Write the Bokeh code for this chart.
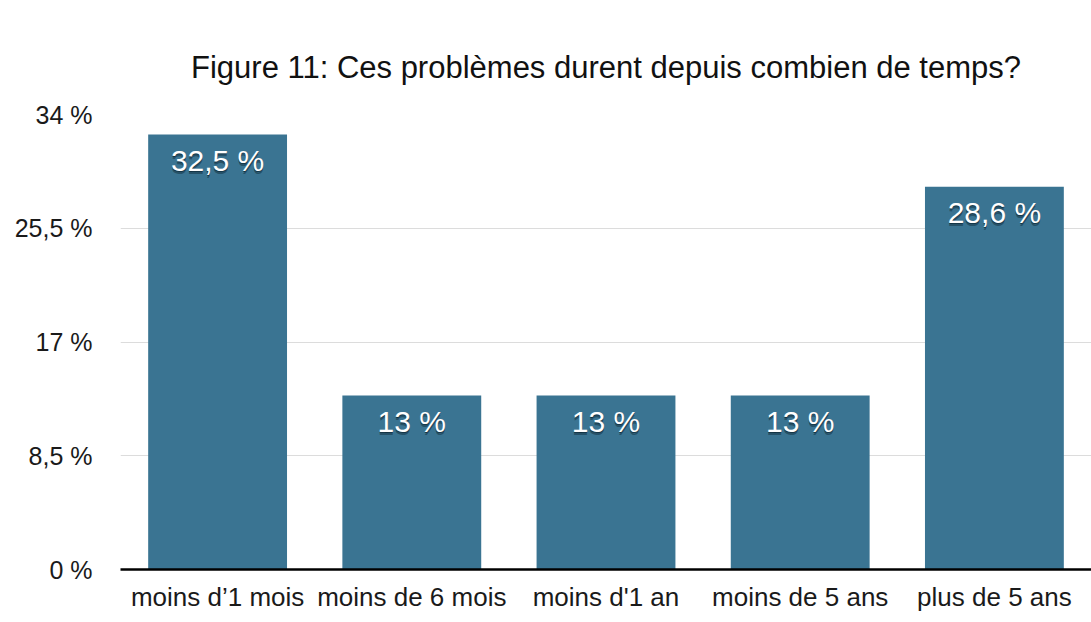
from bokeh.plotting import figure
from bokeh.models import ColumnDataSource, LabelSet, FixedTicker, Title
from bokeh.core.properties import value
from bokeh.embed import file_html
from bokeh.resources import INLINE

# ---- data ----
categories = ["moins d\u20191 mois", "moins de 6 mois", "moins d'1 an", "moins de 5 ans", "plus de 5 ans"]
values = [32.5, 13.0, 13.0, 13.0, 28.6]
y_ticks = [0, 8.5, 17, 25.5, 34]
title_text = "Figure 11: Ces probl\u00e8mes durent depuis combien de temps?"


def fr(v):
    return f"{v:g}".replace(".", ",") + " %"


labels = [fr(v) for v in values]
tick_labels = {t: fr(t) for t in y_ticks}

src = ColumnDataSource(dict(cat=categories, val=values, lab=labels))

FONT = "Liberation Sans"
BAR = "#3a7492"

p = figure(x_range=categories, y_range=(0, 34), width=1091, height=614,
           output_backend="svg", toolbar_location=None,
           min_border_left=120, min_border_right=0, min_border_top=114, min_border_bottom=43)
p.title = None
t = Title(text=title_text, align="center", text_font=FONT, text_font_size="31px",
          text_font_style="normal", text_color="#111111", standoff=59)
p.add_layout(t, "above")

p.outline_line_color = None
p.background_fill_color = "white"
p.border_fill_color = "white"

p.vbar(x="cat", top="val", width=0.715, source=src, fill_color=BAR, line_color=None)

# labels: shadow then white text
common = dict(x="cat", y="val", text="lab", source=src, text_align="center",
              text_baseline="top", text_font=value(FONT), text_font_size="30px")
shadow2 = LabelSet(y_offset=-12, text_color="#0c2633", text_alpha=0.45, **common)
shadow = LabelSet(y_offset=-10, text_color="#0c2633", text_alpha=0.75, **common)
lab = LabelSet(y_offset=-9, text_color="white", **common)
p.add_layout(shadow2)
p.add_layout(shadow)
p.add_layout(lab)

# y axis
p.yaxis.ticker = FixedTicker(ticks=y_ticks)
p.yaxis.major_label_overrides = tick_labels
p.yaxis.axis_line_color = None
p.yaxis.major_tick_line_color = None
p.yaxis.minor_tick_line_color = None
p.yaxis.major_tick_out = 0
p.yaxis.major_tick_in = 0
p.yaxis.major_label_standoff = 28
p.yaxis.major_label_text_font = FONT
p.yaxis.major_label_text_font_size = "25px"
p.yaxis.major_label_text_color = "#1a1a1a"

# x axis
p.xaxis.axis_line_color = "black"
p.xaxis.axis_line_width = 2.5
p.xaxis.major_tick_line_color = None
p.xaxis.major_tick_out = 0
p.xaxis.major_tick_in = 0
p.xaxis.major_label_standoff = 12
p.xaxis.major_label_text_font = FONT
p.xaxis.major_label_text_font_size = "26px"
p.xaxis.major_label_text_color = "#1a1a1a"

p.xgrid.grid_line_color = None
p.ygrid.grid_line_color = "#dcdcdc"
p.ygrid.grid_line_width = 1

open("out.html", "w").write(file_html(p, INLINE))
